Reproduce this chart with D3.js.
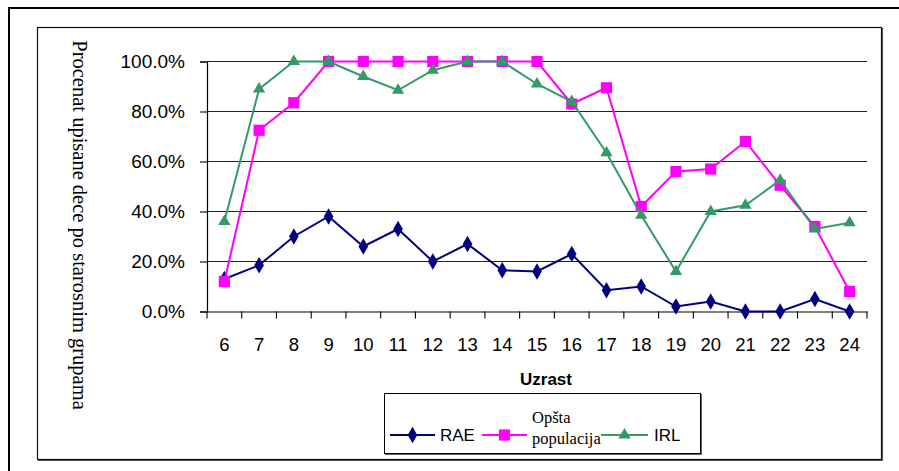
<!DOCTYPE html>
<html><head><meta charset="utf-8">
<script src="https://cdn.jsdelivr.net/npm/d3@7"></script>
<style>body{margin:0;background:#fff;}svg{display:block;}</style>
</head><body>
<svg id="chart" width="899" height="471"></svg>
<script>
const categories = ["6","7","8","9","10","11","12","13","14","15","16","17","18","19","20","21","22","23","24"];
const raeValues = [13, 18.5, 30, 38, 26, 33, 20, 27, 16.5, 16, 23, 8.5, 10, 2, 4, 0, 0, 5, 0];
const opstaValues = [12, 72.5, 83.5, 100, 100, 100, 100, 100, 100, 100, 83, 89.5, 42, 56, 57, 68, 50.5, 34, 8];
const irlValues = [36, 89, 100, 100, 94, 88.5, 96.5, 100, 100, 91, 84, 63.5, 38.5, 16, 40, 42.5, 52.5, 33, 35.5];
const yTicks = [0, 20, 40, 60, 80, 100];
const seriesNames = ["RAE", "Opšta populacija", "IRL"];

(function(){
const svg = d3.select("#chart");
// outer frame
svg.append("path").attr("d","M9,471 V8 H899").attr("fill","none").attr("stroke","#000").attr("stroke-width",2);
// inner chart frame with shadow
svg.append("rect").attr("x",38.5).attr("y",28.5).attr("width",844).attr("height",432)
  .attr("fill","none").attr("stroke","#555").attr("stroke-width",1);
svg.append("rect").attr("x",37.5).attr("y",27.5).attr("width",844).attr("height",432)
  .attr("fill","#fff").attr("stroke","#111").attr("stroke-width",1.2);

const pL = 207, pR = 867, pT = 61.5, pB = 311.5;
const x = d3.scaleBand().domain(categories).range([pL, pR]);
const y = d3.scaleLinear().domain([0, 100]).range([pB, pT]);

// gridlines
svg.append("g").selectAll("line").data(yTicks.filter(d=>d>0)).join("line")
  .attr("x1", pL).attr("x2", pR)
  .attr("y1", d=>y(d)).attr("y2", d=>y(d))
  .attr("stroke","#222").attr("stroke-width",1.1);

// y axis
const yAxis = d3.axisLeft(y).tickValues(yTicks).tickSize(7).tickPadding(15)
  .tickFormat(d => d3.format(".1f")(d) + "%");
const gy = svg.append("g").attr("transform", `translate(${pL},0)`).call(yAxis);
gy.select(".domain").attr("stroke","#000").attr("stroke-width",1.2);
gy.selectAll(".tick line").attr("stroke","#000").attr("stroke-width",1.1);
gy.selectAll("text").attr("font-family","Liberation Sans, Arial, sans-serif").attr("font-size",19).attr("fill","#000");

// x axis
const xAxis = d3.axisBottom(x).tickSize(0).tickPadding(26);
const gx = svg.append("g").attr("transform", `translate(0,${pB})`).call(xAxis);
gx.select(".domain").attr("stroke","#000").attr("stroke-width",1.2);
gx.selectAll("text").attr("font-family","Liberation Sans, Arial, sans-serif").attr("font-size",18.5).attr("fill","#000");
// category boundary ticks
const bounds = categories.map(c => x(c)).concat([pR]);
svg.append("g").selectAll("line").data(bounds).join("line")
  .attr("x1", d=>d).attr("x2", d=>d).attr("y1", pB).attr("y2", pB+7)
  .attr("stroke","#000").attr("stroke-width",1.1);

// axis titles
svg.append("text").attr("transform","translate(73,225) rotate(90)")
  .attr("text-anchor","middle").attr("font-family","Liberation Serif, Times New Roman, serif")
  .attr("font-size",20.5).text("Procenat upisane dece po starosnim grupama");
svg.append("text").attr("x",546).attr("y",385).attr("text-anchor","middle")
  .attr("font-family","Liberation Sans, Arial, sans-serif").attr("font-weight","bold")
  .attr("font-size",17).text("Uzrast");

const cx = c => x(c) + x.bandwidth()/2;
const series = [
  {name: seriesNames[0], values: raeValues, color: "#000080", shape: d3.symbolDiamond, size: 80},
  {name: seriesNames[1], values: opstaValues, color: "#FF00FF", shape: d3.symbolSquare, size: 125},
  {name: seriesNames[2], values: irlValues, color: "#339966", shape: d3.symbolTriangle, size: 65}
];
const line = d3.line().x((d,i)=>cx(categories[i])).y(d=>y(d));
series.forEach(s => {
  svg.append("path").datum(s.values).attr("d", line).attr("fill","none")
    .attr("stroke", s.color).attr("stroke-width", 2);
  svg.append("g").selectAll("path").data(s.values).join("path")
    .attr("transform", (d,i)=>`translate(${cx(categories[i])},${y(d)})`)
    .attr("d", d3.symbol().type(s.shape).size(s.size)).attr("fill", s.color);
});

// legend
svg.append("rect").attr("x",385.5).attr("y",394.5).attr("width",316).attr("height",60)
  .attr("fill","none").attr("stroke","#666").attr("stroke-width",1);
svg.append("rect").attr("x",384.5).attr("y",393.5).attr("width",316).attr("height",60)
  .attr("fill","#fff").attr("stroke","#000").attr("stroke-width",1);
const ly = 435;
const legendItems = [
  {s: series[0], x1: 390, x2: 435},
  {s: series[1], x1: 482, x2: 527},
  {s: series[2], x1: 601, x2: 648}
];
legendItems.forEach(it => {
  svg.append("line").attr("x1",it.x1).attr("x2",it.x2).attr("y1",ly).attr("y2",ly)
    .attr("stroke",it.s.color).attr("stroke-width",2);
  svg.append("path").attr("transform",`translate(${(it.x1+it.x2)/2},${ly})`)
    .attr("d", d3.symbol().type(it.s.shape).size(it.s.size)).attr("fill", it.s.color);
});
svg.append("text").attr("x",440).attr("y",441).attr("font-family","Liberation Sans, Arial, sans-serif")
  .attr("font-size",17).text(seriesNames[0]);
const op = svg.append("text").attr("font-family","Liberation Serif, Times New Roman, serif").attr("font-size",16.5);
op.append("tspan").attr("x",532).attr("y",423).text("Opšta");
op.append("tspan").attr("x",532).attr("y",444).text("populacija");
svg.append("text").attr("x",654).attr("y",441).attr("font-family","Liberation Sans, Arial, sans-serif")
  .attr("font-size",17).text(seriesNames[2]);
})();
</script>
</body></html>
